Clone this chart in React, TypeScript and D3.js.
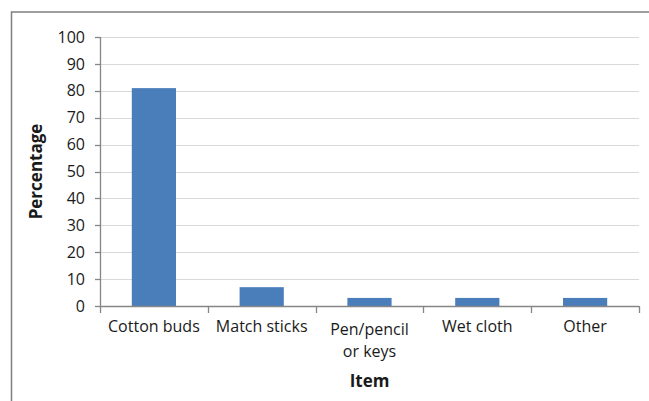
import React, { useRef, useEffect } from 'react';
import * as d3 from 'd3';

const categories: string[][] = [
  ['Cotton buds'],
  ['Match sticks'],
  ['Pen/pencil', 'or keys'],
  ['Wet cloth'],
  ['Other']
];
const percentages: number[] = [81, 7, 3, 3, 3];
const yTicks: number[] = [0, 10, 20, 30, 40, 50, 60, 70, 80, 90, 100];

const W = 649;
const H = 401;
const font = "'Open Sans', sans-serif";

export default () => {
  const svgRef = useRef<SVGSVGElement>(null);

  useEffect(() => {
    document.body.style.margin = '0';
    if (!svgRef.current) return;
    const svg = d3.select(svgRef.current);
    svg.selectAll('*').remove();

    const left = 100;
    const right = 639;
    const top = 37;
    const bottom = 306;

    const keys = categories.map((c) => c.join(' '));
    const x = d3.scaleBand().domain(keys).range([left, right]).paddingInner(0.59).paddingOuter(0.295);
    const xOuter = d3.scaleBand().domain(keys).range([left, right]);
    const y = d3.scaleLinear().domain([0, 100]).range([bottom, top]);

    // frame (only top and left edges are visible)
    svg
      .append('path')
      .attr('d', `M11.5,${H} L11.5,12 L${W},12`)
      .style('fill', 'none')
      .style('stroke', '#7f7f7f')
      .style('stroke-width', 1.5);

    // gridlines
    svg
      .append('g')
      .selectAll('line')
      .data(yTicks.filter((t) => t > 0))
      .join('line')
      .attr('x1', left)
      .attr('x2', right)
      .attr('y1', (d) => Math.round(y(d)) + 0.5)
      .attr('y2', (d) => Math.round(y(d)) + 0.5)
      .style('stroke', '#d9d9d9')
      .style('stroke-width', 1.2);

    // bars
    svg
      .append('g')
      .selectAll('rect')
      .data(percentages)
      .join('rect')
      .attr('x', (_, i) => x(keys[i]) as number)
      .attr('width', x.bandwidth())
      .attr('y', (d) => y(d))
      .attr('height', (d) => bottom - y(d))
      .style('fill', '#4a7ebb');

    // y axis
    const yAxis = svg.append('g');
    yAxis
      .append('line')
      .attr('x1', left + 0.5)
      .attr('x2', left + 0.5)
      .attr('y1', top)
      .attr('y2', bottom)
      .style('stroke', '#868686')
      .style('stroke-width', 1.3);
    yAxis
      .selectAll('line.tick')
      .data(yTicks)
      .join('line')
      .attr('class', 'tick')
      .attr('x1', left - 5)
      .attr('x2', left)
      .attr('y1', (d) => Math.round(y(d)) + 0.5)
      .attr('y2', (d) => Math.round(y(d)) + 0.5)
      .style('stroke', '#868686')
      .style('stroke-width', 1.3);
    yAxis
      .selectAll('text')
      .data(yTicks)
      .join('text')
      .attr('x', left - 15)
      .attr('y', (d) => y(d))
      .attr('dy', '0.35em')
      .attr('text-anchor', 'end')
      .style('font-family', font)
      .style('font-size', '16px')
      .style('fill', '#1a1a1a')
      .text((d) => d);

    // x axis
    const xAxis = svg.append('g');
    xAxis
      .append('line')
      .attr('x1', left)
      .attr('x2', right)
      .attr('y1', bottom + 0.5)
      .attr('y2', bottom + 0.5)
      .style('stroke', '#868686')
      .style('stroke-width', 1.3);
    const edges = keys.map((k) => xOuter(k) as number).concat([right]);
    xAxis
      .selectAll('line.tick')
      .data(edges)
      .join('line')
      .attr('class', 'tick')
      .attr('x1', (d) => Math.round(d) + 0.5)
      .attr('x2', (d) => Math.round(d) + 0.5)
      .attr('y1', bottom)
      .attr('y2', bottom + 7)
      .style('stroke', '#868686')
      .style('stroke-width', 1.3);
    categories.forEach((lines, i) => {
      const cx = (xOuter(keys[i]) as number) + xOuter.bandwidth() / 2;
      const t = xAxis
        .append('text')
        .attr('text-anchor', 'middle')
        .style('font-family', font)
        .style('font-size', '16px')
        .style('fill', '#1a1a1a');
      lines.forEach((line, j) => {
        t.append('tspan')
          .attr('x', cx)
          .attr('y', (lines.length > 1 ? 335 : 332) + j * 22)
          .text(line);
      });
    });

    // axis titles
    svg
      .append('text')
      .attr('transform', `translate(42,${(top + bottom) / 2}) rotate(-90)`)
      .attr('text-anchor', 'middle')
      .style('font-family', font)
      .style('font-size', '17px')
      .style('font-weight', 'bold')
      .style('fill', '#1a1a1a')
      .text('Percentage');
    svg
      .append('text')
      .attr('x', (left + right) / 2)
      .attr('y', 387)
      .attr('text-anchor', 'middle')
      .style('font-family', font)
      .style('font-size', '17px')
      .style('font-weight', 'bold')
      .style('fill', '#1a1a1a')
      .text('Item');
  }, []);

  return <svg width={W} height={H} ref={svgRef} style={{ display: 'block', background: '#fff' }} />;
};
